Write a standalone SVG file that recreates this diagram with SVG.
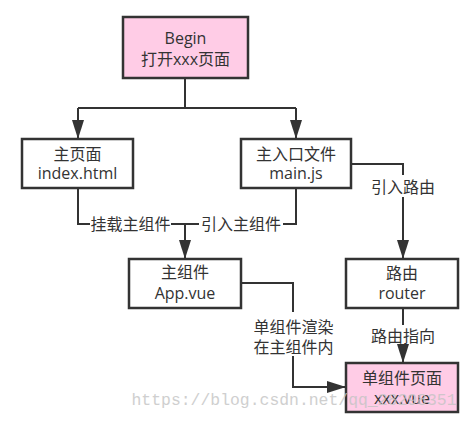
<svg xmlns="http://www.w3.org/2000/svg" width="472" height="421" viewBox="0 0 472 421">
<defs>
<style>
.box{fill:#fff;stroke:#333;stroke-width:2.5}
.pink{fill:#ffcce6}
.t{font-family:"Open Sans","Noto Sans CJK SC",sans-serif;font-size:16px;fill:#333;text-anchor:middle}
.ln{fill:none;stroke:#333;stroke-width:2}
.arr{marker-end:url(#ah)}
.wm{font-family:"Liberation Mono",monospace;font-size:16.4px;fill:#c4c4c4;opacity:0.8}
</style>
<marker id="ah" markerUnits="userSpaceOnUse" markerWidth="19" markerHeight="12" refX="19" refY="6" orient="auto">
<path d="M0,0 L19,6 L0,12 Z" fill="#333"/>
</marker>
</defs>
<rect width="472" height="421" fill="#fff"/>

<g id="connectors">
<path class="ln" d="M185,78 V108 M78,108 H296"/>
<path class="ln arr" d="M78,108 V139"/>
<path class="ln arr" d="M296,108 V139"/>
<path class="ln" d="M78,188 V224 H90 M171,224 H199 M283,224 H296 V188"/>
<path class="ln arr" d="M185,224 V259"/>
<path class="ln" d="M351,164 H403 V175"/>
<path class="ln arr" d="M403,197 V259"/>
<path class="ln" d="M403,308 V325"/>
<path class="ln arr" d="M403,345 V363"/>
<path class="ln" d="M241,283 H293 V312"/>
<path class="ln arr" d="M293,356 V387 H346"/>
<text class="t" x="130.5" y="230">挂载主组件</text>
<text class="t" x="241" y="230">引入主组件</text>
<text class="t" x="403" y="192.5">引入路由</text>
<text class="t" x="403" y="342">路由指向</text>
<text class="t" x="293.5" y="333">单组件渲染</text>
<text class="t" x="293.5" y="353">在主组件内</text>
</g>

<g id="begin">
<rect class="box pink" x="123" y="17" width="125" height="61"/>
<text class="t" x="185.5" y="43.5">Begin</text>
<text class="t" x="185.5" y="65">打开xxx页面</text>
</g>

<g id="index">
<rect class="box" x="22" y="139" width="111" height="49"/>
<text class="t" x="77.5" y="159.5">主页面</text>
<text class="t" x="77.5" y="179">index.html</text>
</g>

<g id="main">
<rect class="box" x="241" y="139" width="110" height="49"/>
<text class="t" x="296" y="159.5">主入口文件</text>
<text class="t" x="296" y="179">main.js</text>
</g>

<g id="app">
<rect class="box" x="129" y="259" width="112" height="49"/>
<text class="t" x="185" y="278">主组件</text>
<text class="t" x="185" y="299">App.vue</text>
</g>

<g id="router">
<rect class="box" x="346" y="259" width="112" height="49"/>
<text class="t" x="402" y="279">路由</text>
<text class="t" x="402" y="299">router</text>
</g>

<g id="single">
<rect class="box pink" x="346" y="363" width="112" height="49"/>
<text class="t" x="402" y="383.5">单组件页面</text>
<text class="t" x="402" y="403.5">xxx.vue</text>
</g>

<text class="wm" x="131.5" y="405" textLength="325" lengthAdjust="spacingAndGlyphs">https://blog.csdn.net/qq_28298351</text>
</svg>
